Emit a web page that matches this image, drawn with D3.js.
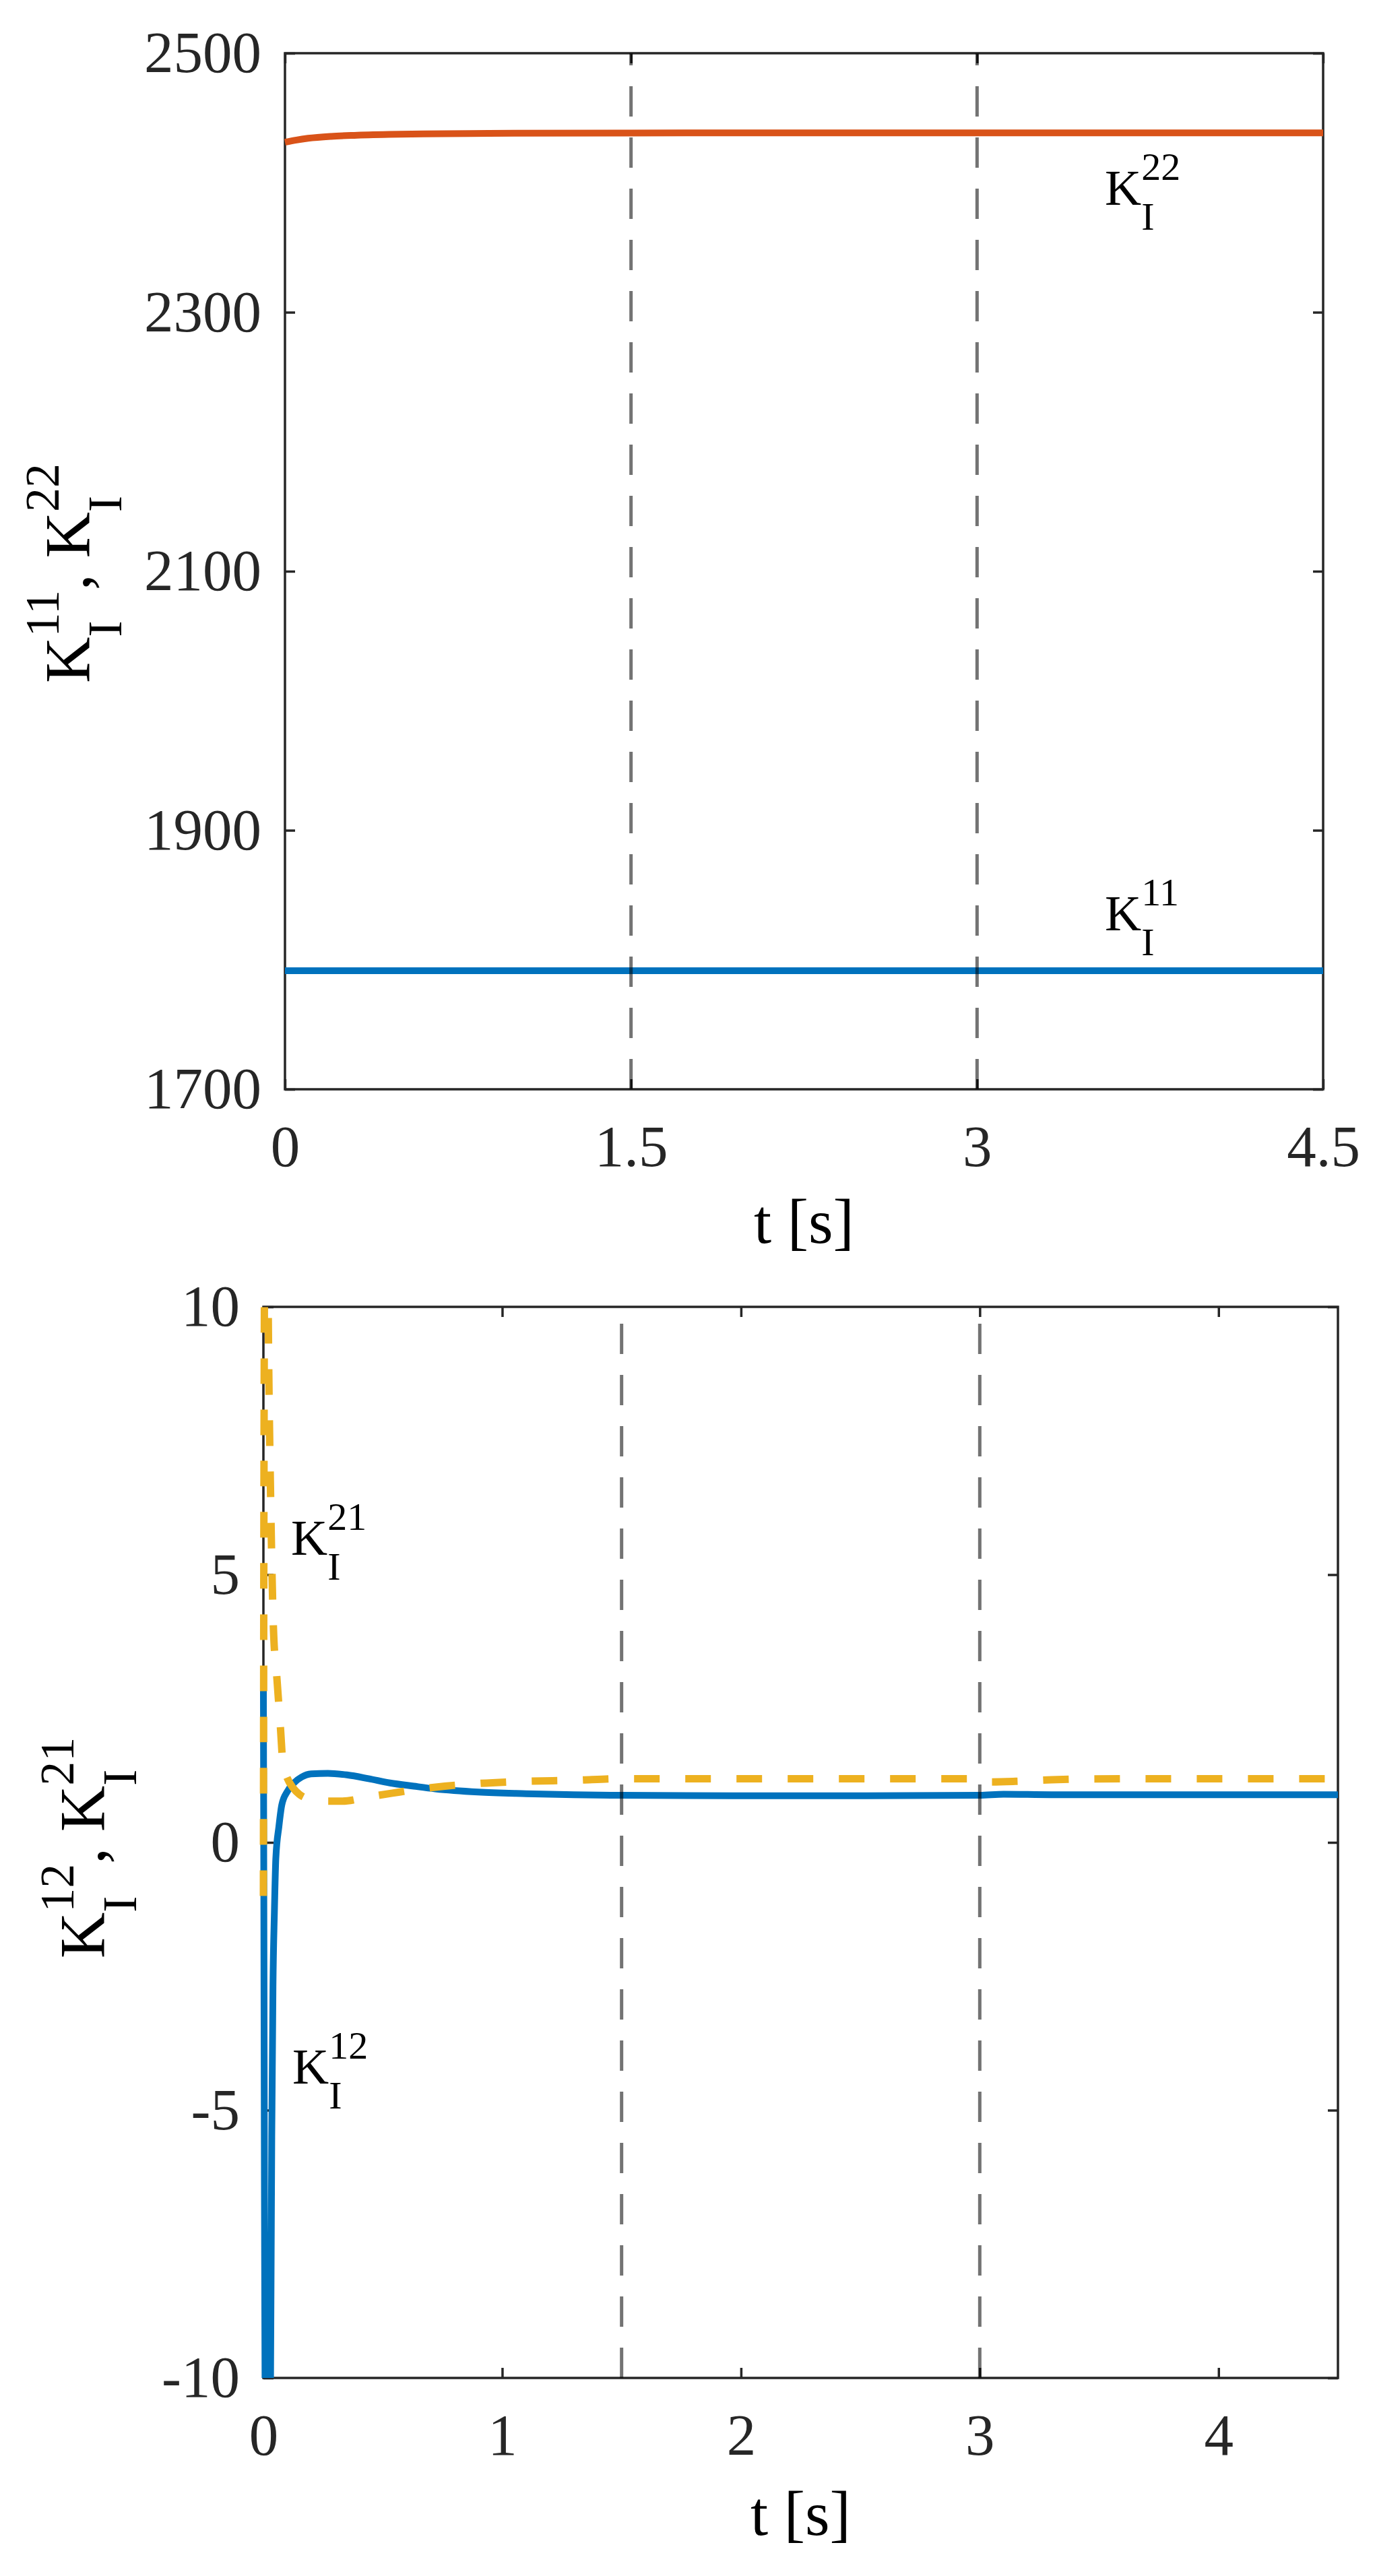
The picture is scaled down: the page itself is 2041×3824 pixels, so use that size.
<!DOCTYPE html>
<html>
<head>
<meta charset="utf-8">
<script src="https://cdn.jsdelivr.net/npm/d3@7"></script>
<style>
  html, body { margin: 0; padding: 0; background: #fff; }
  svg { display: block; }
  text { font-family: "Liberation Serif", "Times New Roman", serif; }
</style>
</head>
<body>
<svg id="chart" width="2041" height="3824"></svg>
<script>
// ---------------- DATA ----------------
// Top panel: K_I^11 and K_I^22 versus time
const tTop22 = [0, 0.05, 0.1, 0.2, 0.3, 0.45, 0.6, 0.8, 1.0, 1.5, 2, 3, 4.5];
const kI22   = [2431.3, 2433.0, 2434.3, 2435.8, 2436.6, 2437.3, 2437.7, 2438.0, 2438.2, 2438.4, 2438.5, 2438.5, 2438.5];
const tTop11 = [0, 1.5, 3, 4.5];
const kI11   = [1791.5, 1791.5, 1791.5, 1791.5];

// Bottom panel: K_I^12 (solid) and K_I^21 (dashed)
const tBot12 = [0, 0.004, 0.012, 0.022, 0.03, 0.035, 0.04, 0.046, 0.052, 0.065, 0.077, 0.1, 0.13, 0.16, 0.2, 0.27, 0.35, 0.44, 0.53, 0.63, 0.72, 0.9, 1.1, 1.3, 1.5, 2, 2.5, 3, 3.1, 3.3, 3.6, 4, 4.5];
const kI12   = [2.9, -6, -13, -13, -10, -5.5, -2.7, -1.3, -0.3, 0.3, 0.7, 0.95, 1.12, 1.22, 1.28, 1.29, 1.26, 1.19, 1.11, 1.05, 1.0, 0.94, 0.91, 0.89, 0.88, 0.87, 0.87, 0.88, 0.9, 0.89, 0.89, 0.89, 0.89];
const tBot21 = [0, 0.002, 0.008, 0.016, 0.022, 0.03, 0.042, 0.056, 0.072, 0.082, 0.1, 0.124, 0.15, 0.2, 0.25, 0.33, 0.44, 0.54, 0.66, 0.76, 0.9, 1.1, 1.3, 1.5, 2, 2.5, 3, 3.05, 3.15, 3.3, 3.6, 4, 4.5];
const kI21   = [-1.0, 6, 13, 12, 9, 6.5, 4.0, 3.1, 2.1, 1.45, 1.2, 1.02, 0.9, 0.8, 0.77, 0.77, 0.85, 0.92, 1.0, 1.05, 1.1, 1.14, 1.16, 1.19, 1.19, 1.19, 1.19, 1.13, 1.14, 1.17, 1.19, 1.19, 1.19];

// Vertical dashed switching instants
const switchTimes = [1.5, 3];

// Ticks
const topXTicks = [0, 1.5, 3, 4.5];
const topXTickLabels = ["0", "1.5", "3", "4.5"];
const topYTicks = [1700, 1900, 2100, 2300, 2500];
const topYTickLabels = ["1700", "1900", "2100", "2300", "2500"];
const botXTicks = [0, 1, 2, 3, 4];
const botXTickLabels = ["0", "1", "2", "3", "4"];
const botYTicks = [-10, -5, 0, 5, 10];
const botYTickLabels = ["-10", "-5", "0", "5", "10"];

// ---------------- STYLE ----------------
const AXC = "#262626";
const BLUE = "#0072BD", ORANGE = "#D95319", YELLOW = "#EDB120";
const TICKFS = 87, LABFS = 95, LABSFS = 72, ANNFS = 75, ANNSFS = 58;

const svg = d3.select("#chart");

function texLabel(parent, pieces, mainSize, scriptSize, supOff, subOff) {
  const g = parent.append("g");
  let cur = 0;
  pieces.forEach(p => {
    if (p.space) { cur += p.space * mainSize; return; }
    const m = g.append("text").attr("x", cur).attr("y", 0)
      .attr("font-size", mainSize).attr("fill", "#000").text(p.t);
    cur += m.node().getComputedTextLength();
    if (p.sub || p.sup) {
      let w = 0;
      if (p.sub) {
        const s = g.append("text").attr("x", cur).attr("y", subOff)
          .attr("font-size", scriptSize).attr("fill", "#000").text(p.sub);
        w = Math.max(w, s.node().getComputedTextLength());
      }
      if (p.sup) {
        const s = g.append("text").attr("x", cur).attr("y", -supOff)
          .attr("font-size", scriptSize).attr("fill", "#000").text(p.sup);
        w = Math.max(w, s.node().getComputedTextLength());
      }
      cur += w;
    }
  });
  return {g, width: cur};
}

function panel(cfg) {
  const {L, R, T, B} = cfg;
  const x = d3.scaleLinear().domain(cfg.xDomain).range([L, R]);
  const y = d3.scaleLinear().domain(cfg.yDomain).range([B, T]);
  const g = svg.append("g");

  // axes box
  g.append("rect").attr("x", L).attr("y", T).attr("width", R - L).attr("height", B - T)
    .attr("fill", "none").attr("stroke", AXC).attr("stroke-width", 3.5);

  const TL = 15;
  const styleAxis = sel => {
    sel.select(".domain").remove();
    sel.selectAll(".tick line").attr("stroke", AXC).attr("stroke-width", 3.5);
    sel.selectAll(".tick text").attr("fill", AXC).attr("font-size", TICKFS)
      .attr("font-family", '"Liberation Serif", "Times New Roman", serif');
  };
  g.append("g").attr("transform", `translate(0,${B})`)
    .call(d3.axisBottom(x).tickValues(cfg.xTicks).tickSize(-TL).tickPadding(52)
      .tickFormat((d, i) => cfg.xTickLabels[i])).call(styleAxis);
  g.append("g").attr("transform", `translate(0,${T})`)
    .call(d3.axisTop(x).tickValues(cfg.xTicks).tickSize(-TL).tickFormat("")).call(styleAxis);
  g.append("g").attr("transform", `translate(${L},0)`)
    .call(d3.axisLeft(y).tickValues(cfg.yTicks).tickSize(-TL).tickPadding(35)
      .tickFormat((d, i) => cfg.yTickLabels[i])).call(styleAxis);
  g.append("g").attr("transform", `translate(${R},0)`)
    .call(d3.axisRight(y).tickValues(cfg.yTicks).tickSize(-TL).tickFormat("")).call(styleAxis);

  // clip
  const cid = "clip" + cfg.id;
  svg.append("defs").append("clipPath").attr("id", cid)
    .append("rect").attr("x", L - 8).attr("y", T).attr("width", R - L + 16).attr("height", B - T);
  const dg = g.append("g").attr("clip-path", `url(#${cid})`);

  const line = d3.line().x(d => x(d[0])).y(d => y(d[1])).curve(d3.curveMonotoneX);
  cfg.series.forEach(s => {
    const pts = s.t.map((tv, i) => [tv, s.v[i]]);
    const p = dg.append("path").attr("d", line(pts)).attr("fill", "none")
      .attr("stroke", s.color).attr("stroke-width", s.width)
      .attr("stroke-linejoin", "round");
    if (s.dash) p.attr("stroke-dasharray", s.dash);
  });

  // switching lines (drawn from bottom to top)
  switchTimes.forEach(ts => {
    g.append("line").attr("x1", x(ts)).attr("x2", x(ts))
      .attr("y1", y(cfg.yDomain[0])).attr("y2", y(cfg.yDomain[1]))
      .attr("stroke", "#000").attr("stroke-opacity", 0.55).attr("stroke-width", 5)
      .attr("stroke-dasharray", "45 31");
  });

  // annotations
  cfg.annotations.forEach(a => {
    const lab = texLabel(g, [{t: "K", sub: "I", sup: a.sup}], ANNFS, ANNSFS, 37, 37);
    lab.g.attr("transform", `translate(${a.x},${a.y})`);
  });

  // x label
  g.append("text").attr("x", (L + R) / 2).attr("y", cfg.xLabelY)
    .attr("text-anchor", "middle").attr("font-size", LABFS - 1).attr("fill", "#000")
    .text("t [s]");

  // y label (rotated)
  const yl = texLabel(g, [
    {t: "K", sub: "I", sup: cfg.yl[0]}, {t: ","}, {space: 0.25},
    {t: "K", sub: "I", sup: cfg.yl[1]}
  ], LABFS, LABSFS, 46, 47);
  yl.g.attr("transform", `translate(${cfg.yLabelX},${cfg.yLabelC}) rotate(-90) translate(${-yl.width / 2},0)`);
}

panel({
  id: "top", L: 423, R: 1964, T: 79, B: 1617,
  xDomain: [0, 4.5], yDomain: [1700, 2500],
  xTicks: topXTicks, xTickLabels: topXTickLabels,
  yTicks: topYTicks, yTickLabels: topYTickLabels,
  series: [
    {t: tTop22, v: kI22, color: ORANGE, width: 10},
    {t: tTop11, v: kI11, color: BLUE, width: 10}
  ],
  annotations: [
    {sup: "22", x: 1640, y: 304},
    {sup: "11", x: 1640, y: 1381}
  ],
  xLabelY: 1845, yLabelX: 133, yLabelC: 851, yl: ["11", "22"]
});

panel({
  id: "bot", L: 391, R: 1986, T: 1940, B: 3530,
  xDomain: [0, 4.5], yDomain: [-10, 10],
  xTicks: botXTicks, xTickLabels: botXTickLabels,
  yTicks: botYTicks, yTickLabels: botYTickLabels,
  series: [
    {t: tBot12, v: kI12, color: BLUE, width: 10},
    {t: tBot21, v: kI21, color: YELLOW, width: 11, dash: "38 38"}
  ],
  annotations: [
    {sup: "21", x: 432, y: 2308},
    {sup: "12", x: 434, y: 3093}
  ],
  xLabelY: 3763, yLabelX: 155, yLabelC: 2743, yl: ["12", "21"]
});
</script>
</body>
</html>
